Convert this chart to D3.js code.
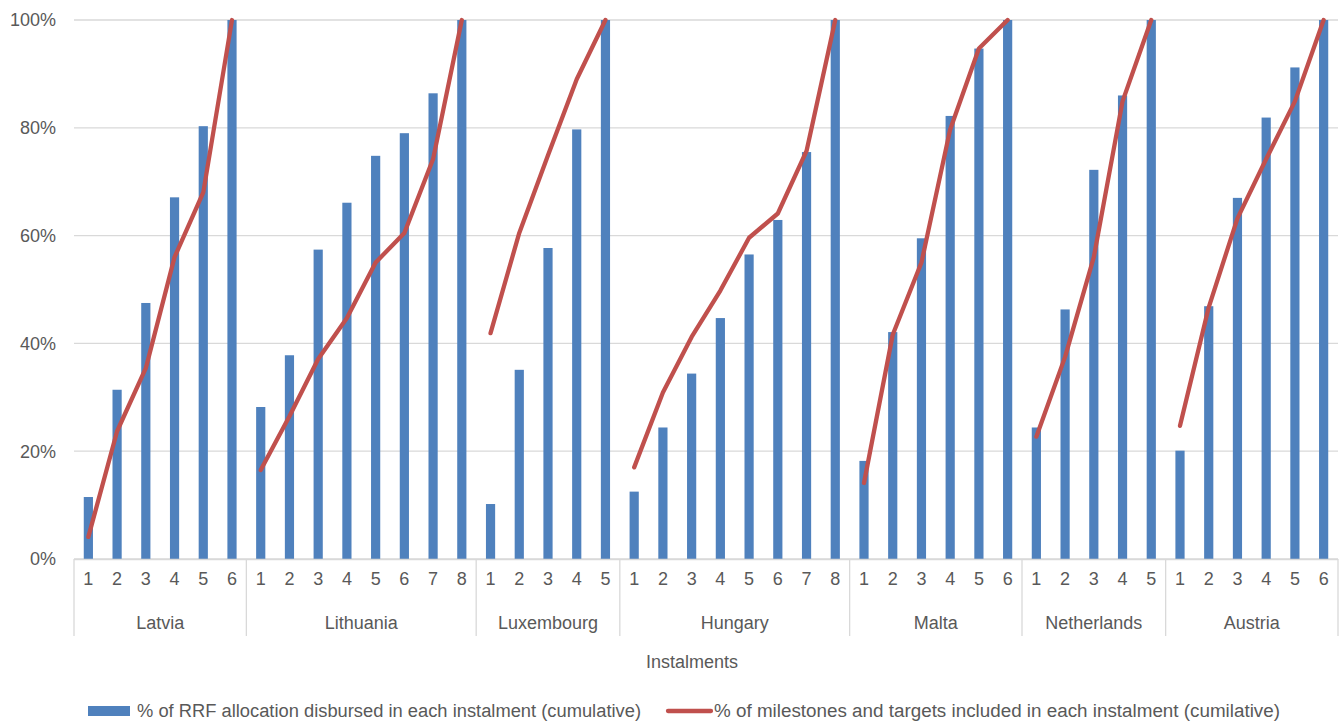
<!DOCTYPE html>
<html>
<head>
<meta charset="utf-8">
<script src="https://cdn.jsdelivr.net/npm/d3@7"></script>
<style>
  html, body { margin: 0; padding: 0; background: #fff; }
  svg { display: block; font-family: "Liberation Sans", Arial, sans-serif; }
</style>
</head>
<body>
<svg id="chart" width="1344" height="724"></svg>
<script>
const countries = ["Latvia", "Lithuania", "Luxembourg", "Hungary", "Malta", "Netherlands", "Austria"];
const disbursed = [
  [11.5, 31.4, 47.5, 67.1, 80.3, 100],
  [28.2, 37.8, 57.4, 66.1, 74.8, 79.0, 86.4, 100],
  [10.2, 35.1, 57.7, 79.7, 100],
  [12.5, 24.4, 34.4, 44.7, 56.5, 62.9, 75.5, 100],
  [18.2, 42.1, 59.5, 82.2, 94.7, 100],
  [24.4, 46.3, 72.2, 86.0, 100],
  [20.1, 46.9, 67.0, 81.9, 91.2, 100]
];
const milestones = [
  [4.1, 23.7, 35.4, 56.0, 68.0, 100],
  [16.5, 26.5, 37.1, 44.7, 55.0, 60.5, 74.2, 100],
  [41.9, 60.5, 74.9, 89.0, 100],
  [17.0, 30.9, 41.2, 49.8, 59.6, 64.1, 75.7, 100],
  [14.1, 41.6, 55.0, 79.7, 94.7, 100],
  [22.7, 37.5, 56.0, 84.9, 100],
  [24.7, 46.7, 63.2, 74.2, 84.9, 100]
];
const yTicks = [0, 20, 40, 60, 80, 100];
const xTitle = "Instalments";
const legendBar = "% of RRF allocation disbursed in each instalment (cumulative)";
const legendLine = "% of milestones and targets included in each instalment (cumilative)";

const svg = d3.select("#chart");
const pLeft = 74, pRight = 1338, pTop = 20, pBottom = 559;
const textColor = "#595959", gridColor = "#d9d9d9";
const fs = 18;

// flatten
const rows = [];
countries.forEach((c, ci) => {
  disbursed[ci].forEach((v, i) => {
    rows.push({ key: c + "-" + (i + 1), country: c, ci, inst: i + 1, bar: v, line: milestones[ci][i] });
  });
});

const x = d3.scaleBand().domain(rows.map(d => d.key)).range([pLeft, pRight]).paddingInner(0.68).paddingOuter(0.34);
const y = d3.scaleLinear().domain([0, 100]).range([pBottom, pTop]);

// gridlines
svg.append("g").selectAll("line").data(yTicks).join("line")
  .attr("x1", pLeft).attr("x2", pRight)
  .attr("y1", d => y(d)).attr("y2", d => y(d))
  .attr("stroke", gridColor).attr("stroke-width", 1.3);

// y labels
svg.append("g").selectAll("text").data(yTicks).join("text")
  .attr("x", 56).attr("y", d => y(d)).attr("dy", "0.35em")
  .attr("text-anchor", "end").attr("fill", textColor).attr("font-size", fs)
  .text(d => d + "%");

// bars
svg.append("g").selectAll("rect").data(rows).join("rect")
  .attr("x", d => x(d.key)).attr("width", x.bandwidth())
  .attr("y", d => y(d.bar)).attr("height", d => y(0) - y(d.bar))
  .attr("fill", "#4F81BD");

// lines per country
const lineGen = d3.line().x(d => x(d.key) + x.bandwidth() / 2).y(d => y(d.line));
svg.append("g").selectAll("path").data(countries).join("path")
  .attr("d", c => lineGen(rows.filter(r => r.country === c)))
  .attr("fill", "none").attr("stroke", "#C0504D").attr("stroke-width", 4.3)
  .attr("stroke-linecap", "round").attr("stroke-linejoin", "round");

// category axis
svg.append("line").attr("x1", pLeft).attr("x2", pRight).attr("y1", pBottom + 0.5).attr("y2", pBottom + 0.5)
  .attr("stroke", gridColor).attr("stroke-width", 1.3);
// separators
const bounds = [0];
let acc = 0;
disbursed.forEach(a => { acc += a.length; bounds.push(acc); });
const bx = b => pLeft + b * (pRight - pLeft) / rows.length;
svg.append("g").selectAll("line").data(bounds).join("line")
  .attr("x1", bx).attr("x2", bx)
  .attr("y1", pBottom).attr("y2", 636)
  .attr("stroke", gridColor).attr("stroke-width", 1.3);
// instalment numbers
svg.append("g").selectAll("text").data(rows).join("text")
  .attr("x", d => x(d.key) + x.bandwidth() / 2).attr("y", 579).attr("dy", "0.35em")
  .attr("text-anchor", "middle").attr("fill", textColor).attr("font-size", fs)
  .text(d => d.inst);
// country labels
svg.append("g").selectAll("text").data(countries).join("text")
  .attr("x", (c, i) => (bx(bounds[i]) + bx(bounds[i + 1])) / 2)
  .attr("y", 623).attr("dy", "0.35em")
  .attr("text-anchor", "middle").attr("fill", textColor).attr("font-size", fs)
  .text(c => c);

// axis title
svg.append("text").attr("x", 692).attr("y", 662).attr("dy", "0.35em")
  .attr("text-anchor", "middle").attr("fill", textColor).attr("font-size", fs)
  .text(xTitle);

// legend
const lg = svg.append("g");
lg.append("rect").attr("x", 88).attr("y", 706).attr("width", 42).attr("height", 10).attr("fill", "#4F81BD");
lg.append("text").attr("x", 137).attr("y", 711).attr("dy", "0.35em").attr("fill", textColor).attr("font-size", fs)
  .attr("textLength", 504).attr("lengthAdjust", "spacingAndGlyphs")
  .text(legendBar);
lg.append("line").attr("x1", 668).attr("x2", 711).attr("y1", 711).attr("y2", 711)
  .attr("stroke", "#C0504D").attr("stroke-width", 4.3).attr("stroke-linecap", "round");
lg.append("text").attr("x", 714).attr("y", 711).attr("dy", "0.35em").attr("fill", textColor).attr("font-size", fs)
  .attr("textLength", 566).attr("lengthAdjust", "spacingAndGlyphs")
  .text(legendLine);
</script>
</body>
</html>
